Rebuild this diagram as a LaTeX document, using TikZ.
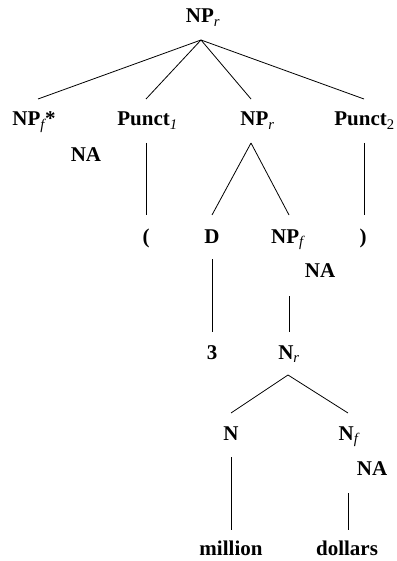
\documentclass[tikz,border=0pt]{standalone}
\usepackage{fontspec}
\setmainfont{Liberation Serif}
\usetikzlibrary{calc}
\newcommand\mysub[1]{\textsubscript{\normalfont\itshape #1}}
\newcommand\mysubup[1]{\textsubscript{\normalfont #1}}
\begin{document}
\begin{tikzpicture}[x=1pt,y=-1pt,
  lab/.style={anchor=base,inner sep=0pt,font=\fontsize{21}{25}\selectfont\bfseries},
  edge/.style={line width=0.8pt,black}]
\useasboundingbox (0,0) rectangle (396,561);
% labels
\node[lab] (top) at (203,23) {NP\mysub{r}};
\node[lab] (np1) at (34,126) {NP\mysub{f}*};
\node[lab] (p1) at (147.5,126) {Punct\mysub{1}};
\node[lab] (np2) at (257.5,126) {NP\mysub{r}};
\node[lab] (p2) at (364.5,126) {Punct\mysubup{2}};
\node[lab] (na1) at (86,162) {NA};
\node[lab] (lp) at (146,243) {(};
\node[lab] (d) at (212,243) {D};
\node[lab] (npf) at (287.5,243) {NP\mysub{f}};
\node[lab] (rp) at (363,243) {)};
\node[lab] (na2) at (320,277) {NA};
\node[lab] (three) at (212,359) {3};
\node[lab] (nr) at (289,359) {N\mysub{r}};
\node[lab] (n) at (231,440) {N};
\node[lab] (nf) at (348.5,440) {N\mysub{f}};
\node[lab] (na3) at (372,475) {NA};
\node[lab] (mil) at (231,555) {million};
\node[lab] (dol) at (347,555) {dollars};
% connectors
\draw[edge] ($(top.base)+(-2,17)$) -- ($(np1.base)+(4,-27)$);
\draw[edge] ($(top.base)+(-2,17)$) -- ($(p1.base)+(-1.5,-27)$);
\draw[edge] ($(top.base)+(-2,17)$) -- ($(np2.base)+(-6.5,-27)$);
\draw[edge] ($(top.base)+(-2,17)$) -- ($(p2.base)+(-0.5,-27)$);
\draw[edge] ($(p1.base)+(-1.5,17)$) -- ($(lp.base)+(0,-28)$);
\draw[edge] ($(np2.base)+(-6.5,17)$) -- ($(d.base)+(0,-28)$);
\draw[edge] ($(np2.base)+(-6.5,17)$) -- ($(npf.base)+(1.5,-28)$);
\draw[edge] ($(p2.base)+(-0.5,17)$) -- ($(rp.base)+(1,-28)$);
\draw[edge] ($(d.base)+(0,16)$) -- ($(three.base)+(0,-27)$);
\draw[edge] ($(npf.base)+(1.5,53)$) -- ($(nr.base)+(0,-27)$);
\draw[edge] ($(nr.base)+(-1,16)$) -- ($(n.base)+(0,-27)$);
\draw[edge] ($(nr.base)+(-1,16)$) -- ($(nf.base)+(-0.5,-27)$);
\draw[edge] ($(n.base)+(0,17)$) -- ($(mil.base)+(0,-25)$);
\draw[edge] ($(nf.base)+(-0.5,53)$) -- ($(dol.base)+(1,-25)$);
\end{tikzpicture}
\end{document}
